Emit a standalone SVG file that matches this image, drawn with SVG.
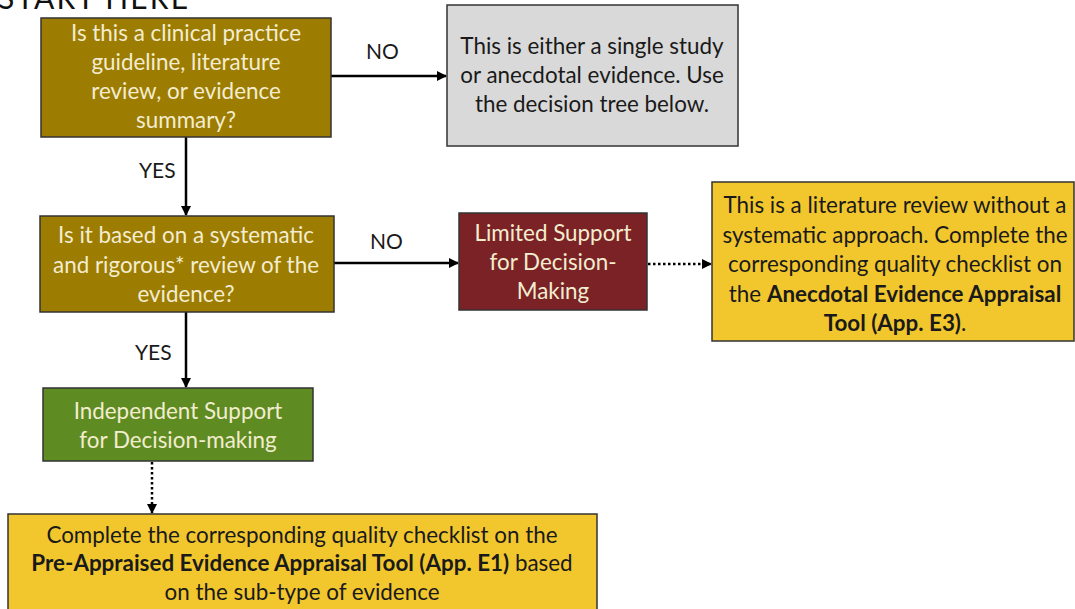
<svg xmlns="http://www.w3.org/2000/svg" width="1075" height="609" viewBox="0 0 1075 609">
<defs>
<marker id="ah" markerWidth="10" markerHeight="10" refX="9" refY="5" orient="auto" markerUnits="userSpaceOnUse">
<path d="M0,0 L10,5 L0,10 Z" fill="#000"/>
</marker>
<style>
.box{stroke:#333;stroke-width:1.5}
.t{font-family:Lato,"Open Sans",sans-serif;font-size:22.4px;text-anchor:middle}
.lt{fill:#F3EDD0}
.dk{fill:#1a1a1a}
.b{font-weight:bold}
.lab{font-family:Lato,"Open Sans",sans-serif;font-size:21px;fill:#1a1a1a}
.c{stroke:#000;stroke-width:2.5;fill:none}
.d{stroke:#000;stroke-width:2.5;fill:none;stroke-dasharray:2.5 2.5}
</style>
</defs>
<rect width="1075" height="609" fill="#fff"/>
<text x="-2" y="9" font-family="Lato,'Open Sans',sans-serif" font-size="30" fill="#111" textLength="190">START HERE</text>

<g id="connectors">
<line class="c" x1="331" y1="76" x2="446" y2="76" marker-end="url(#ah)"/>
<text class="lab" x="366" y="59">NO</text>
<line class="c" x1="186" y1="137" x2="186" y2="215" marker-end="url(#ah)"/>
<text class="lab" x="139" y="178">YES</text>
<line class="c" x1="334" y1="263" x2="458" y2="263" marker-end="url(#ah)"/>
<text class="lab" x="370" y="249">NO</text>
<line class="c" x1="186" y1="312" x2="186" y2="387" marker-end="url(#ah)"/>
<text class="lab" x="135" y="360">YES</text>
<line class="d" x1="648" y1="264" x2="711" y2="264" marker-end="url(#ah)"/>
<line class="d" x1="152" y1="462" x2="152" y2="513" marker-end="url(#ah)"/>
</g>

<g id="q1">
<rect class="box" x="41" y="18" width="290" height="119" fill="#9D7C02"/>
<text class="t lt" x="186" y="41">Is this a clinical practice</text>
<text class="t lt" x="186" y="70">guideline, literature</text>
<text class="t lt" x="186" y="99">review, or evidence</text>
<text class="t lt" x="186" y="128">summary?</text>
</g>

<g id="single">
<rect class="box" x="447" y="5" width="291" height="141" fill="#D9D9D9"/>
<text class="t dk" x="592" y="54">This is either a single study</text>
<text class="t dk" x="592" y="83">or anecdotal evidence. Use</text>
<text class="t dk" x="592" y="112">the decision tree below.</text>
</g>

<g id="q2">
<rect class="box" x="40" y="216" width="294" height="96" fill="#9D7C02"/>
<text class="t lt" x="186" y="243">Is it based on a systematic</text>
<text class="t lt" x="186" y="273">and rigorous* review of the</text>
<text class="t lt" x="186" y="302">evidence?</text>
</g>

<g id="limited">
<rect class="box" x="459" y="213" width="188" height="97" fill="#7A2226"/>
<text class="t lt" x="553" y="241">Limited Support</text>
<text class="t lt" x="553" y="270">for Decision-</text>
<text class="t lt" x="553" y="299">Making</text>
</g>

<g id="anecdotal">
<rect class="box" x="712" y="182" width="362" height="159" fill="#F2C72E"/>
<text class="t dk" x="895" y="213">This is a literature review without a</text>
<text class="t dk" x="895" y="243">systematic approach. Complete the</text>
<text class="t dk" x="895" y="272">corresponding quality checklist on</text>
<text class="t dk" x="895" y="302">the <tspan class="b">Anecdotal Evidence Appraisal</tspan></text>
<text class="t dk b" x="895" y="331">Tool (App. E3)<tspan font-weight="normal">.</tspan></text>
</g>

<g id="independent">
<rect class="box" x="43" y="388" width="270" height="73" fill="#5E8B22"/>
<text class="t lt" x="178" y="419">Independent Support</text>
<text class="t lt" x="178" y="448">for Decision-making</text>
</g>

<g id="preappraised">
<rect class="box" x="8" y="514" width="589" height="100" fill="#F2C72E"/>
<text class="t dk" x="302" y="543">Complete the corresponding quality checklist on the</text>
<text class="t dk" x="302" y="571"><tspan class="b">Pre-Appraised Evidence Appraisal Tool (App. E1)</tspan> based</text>
<text class="t dk" x="302" y="600">on the sub-type of evidence</text>
</g>
</svg>
